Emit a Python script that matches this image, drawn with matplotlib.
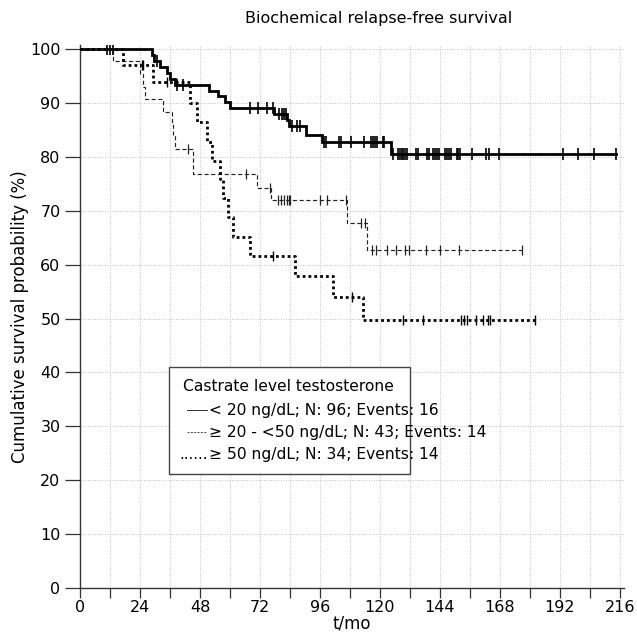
import numpy as np
import matplotlib
matplotlib.use("Agg")
import matplotlib.pyplot as plt
from matplotlib.patches import Rectangle

# ---------------- data ----------------
title = "Biochemical relapse-free survival"
xlabel = "t/mo"
ylabel = "Cumulative survival probability (%)"
legend_title = "Castrate level testosterone"
group_labels = ["< 20 ng/dL", "\u2265 20 - <50 ng/dL", "\u2265 50 ng/dL"]
group_n = [96, 43, 34]
group_events = [16, 14, 14]

# group 1: < 20 ng/dL
g1_times = [28.7, 29.6, 32.0, 34.7, 36.0, 38.0, 51.5, 55.0, 58.0, 60.0,
            77.5, 82.7, 83.6, 90.5, 96.6, 124.5]
g1_surv = [98.9, 97.8, 96.7, 95.6, 94.5, 93.4, 92.3, 91.2, 90.1, 89.1,
           88.0, 86.9, 85.8, 84.1, 82.7, 80.5]
g1_cens = [10.9, 12.0, 13.3, 30.7, 38.7, 41.0, 68.0, 71.3, 74.7, 77.0,
           79.6, 80.7, 81.6, 82.3, 84.7, 86.7, 88.0, 97.7, 98.4, 103.7,
           104.4, 108.3, 113.6, 116.4, 117.1, 118.0, 118.7, 121.1, 121.6,
           125.3, 127.3, 128.0, 128.7, 129.3, 130.0, 130.8, 134.4, 135.2,
           138.7, 139.7, 141.0, 142.0, 142.9, 143.7, 146.0, 146.7, 147.7,
           148.3, 150.7, 151.3, 152.0, 156.7, 162.4, 163.6, 167.7, 193.3,
           199.3, 205.7, 214.3]

# group 2: >= 20 - <50 ng/dL
g2_times = [13.3, 24.0, 25.0, 26.0, 33.3, 36.7, 37.3, 38.0, 45.3, 70.7,
            76.3, 106.7, 114.9]
g2_surv = [97.7, 95.3, 93.0, 90.7, 88.4, 86.1, 83.8, 81.5, 76.9, 74.3,
           71.9, 67.7, 62.7]
g2_cens = [43.3, 66.4, 76.1, 79.3, 80.4, 81.6, 82.9, 83.6, 84.0, 96.0,
           98.7, 106.3, 112.3, 114.0, 116.7, 118.4, 122.7, 126.3, 130.0,
           131.7, 138.4, 144.0, 151.6, 176.7]

# group 3: >= 50 ng/dL
g3_times = [17.3, 29.3, 44.0, 46.7, 50.7, 52.7, 56.0, 57.3, 59.3, 61.0,
            68.0, 86.0, 101.3, 113.3]
g3_surv = [97.1, 93.8, 90.0, 86.4, 82.8, 79.3, 75.8, 72.3, 68.9, 65.2,
           61.6, 57.8, 54.0, 49.7]
g3_cens = [24.7, 25.3, 34.7, 77.3, 108.7, 129.3, 137.0, 152.5, 153.5,
           154.7, 158.4, 161.0, 163.0, 164.0, 182.0]

x_ticks = list(range(0, 217, 24))
x_minor = list(range(12, 217, 24))
y_ticks = list(range(0, 101, 10))

# ---------------- figure ----------------
fig = plt.figure(figsize=(6.37, 6.37), dpi=100)
ax_left, ax_bottom = 80 / 637, 1 - 588 / 637
ax_w = (217.5 * 2.5) / 637
ax_h = (100.8 * 5.39) / 637
ax = fig.add_axes([ax_left, ax_bottom, ax_w, ax_h])
ax.set_xlim(0, 217.5)
ax.set_ylim(0, 100.8)

styles = [
    dict(color="black", lw=2.0, ls="-", cms=8.0, cmw=1.2),
    dict(color="#222222", lw=0.85, ls=(0, (3.5, 2.2)), cms=6.5, cmw=0.9),
    dict(color="black", lw=2.0, ls=(0, (1.0, 1.1)), cms=6.5, cmw=1.0),
]
groups = [(g1_times, g1_surv, g1_cens),
          (g2_times, g2_surv, g2_cens),
          (g3_times, g3_surv, g3_cens)]

for (times, surv, cens), st in zip(groups, styles):
    end = max(max(cens), times[-1])
    t = np.array([0.0] + list(times) + [end])
    s = np.array([100.0] + list(surv) + [surv[-1]])
    ax.step(t, s, where="post", color=st["color"], lw=st["lw"],
            linestyle=st["ls"], zorder=3, solid_joinstyle="miter")
    c = np.array(cens)
    idx = np.searchsorted(t, c, side="right") - 1
    ax.plot(c, s[idx], linestyle="none", marker="|", color=st["color"],
            markersize=st["cms"], markeredgewidth=st["cmw"], zorder=4)

# grid
for xv in range(12, 217, 12):
    ax.axvline(xv, color="#cccccc", lw=0.8, ls=(0, (1, 1.2)), zorder=1)
for yv in range(10, 101, 10):
    ax.axhline(yv, color="#cccccc", lw=0.8, ls=(0, (1, 1.2)), zorder=1)

# axes styling
for sp in ["top", "right"]:
    ax.spines[sp].set_visible(False)
for sp in ["left", "bottom"]:
    ax.spines[sp].set_color("#333333")
    ax.spines[sp].set_linewidth(1.0)
ax.set_xticks(x_ticks)
ax.set_xticks(x_minor, minor=True)
ax.set_yticks(y_ticks)
ax.tick_params(axis="x", which="both", direction="out", length=7, width=0.9,
               color="#333333", labelsize=11.5, pad=1.5)
ax.tick_params(axis="y", direction="out", length=11, width=0.9,
               color="#333333", labelsize=11.5, pad=3)
ax.set_xlabel(xlabel, fontsize=12, labelpad=0)
ax.set_ylabel(ylabel, fontsize=12, labelpad=1)
fig.text(379 / 637, 1 - 18 / 637, title, ha="center", va="center",
         fontsize=11.5)

# manual legend box (data coordinates)
ax.add_patch(Rectangle((35.6, 21.2), 96.4, 19.8, fill=True, facecolor="white",
                       edgecolor="#444444", lw=1.0, zorder=5))
ax.text(41.2, 37.4, legend_title, fontsize=11.2, va="center", ha="left",
        zorder=6)
rows_y = [33.0, 28.9, 24.7]
for i, (lab, n, ev) in enumerate(zip(group_labels, group_n, group_events)):
    y = rows_y[i]
    txt = f"{lab}; N: {n}; Events: {ev}"
    if i == 0:
        ax.plot([42.6, 50.8], [y, y], color="#333333", lw=0.7, zorder=6)
    elif i == 1:
        ax.plot([42.6, 50.8], [y, y], color="#333333", lw=0.6,
                ls=(0, (2.5, 1.5)), zorder=6)
    else:
        ax.text(51.0, y, "......", fontsize=10.5, va="center", ha="right",
                zorder=6)
    ax.text(51.6, y, txt, fontsize=11.2, va="center", ha="left", zorder=6)

fig.savefig("out.png", dpi=100)
